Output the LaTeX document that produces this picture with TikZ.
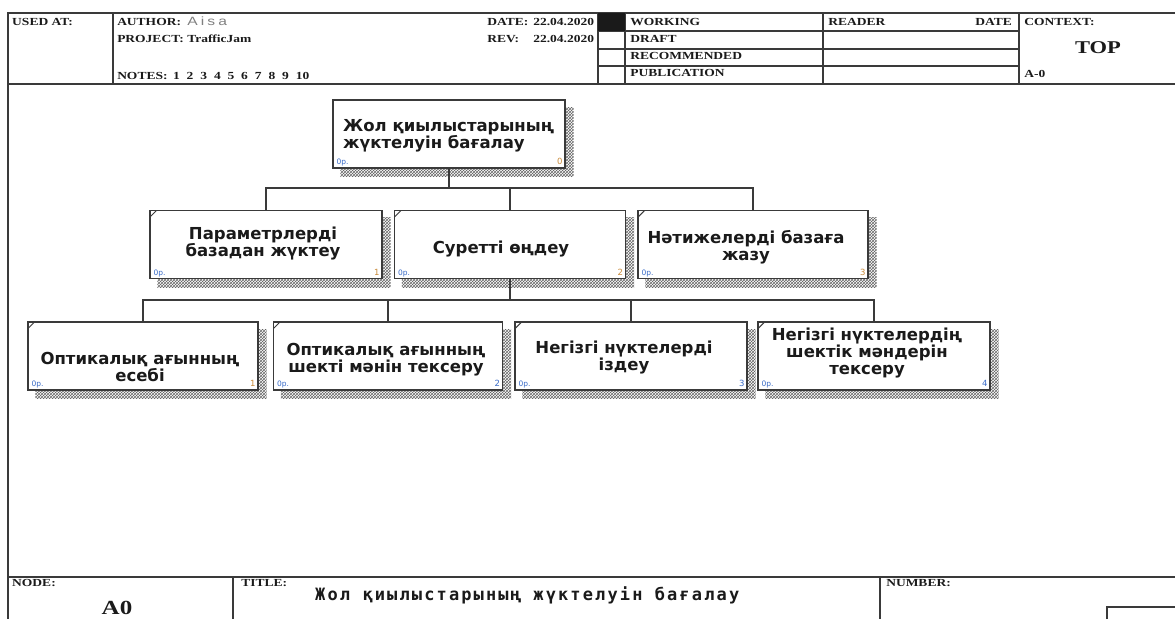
\documentclass[tikz,border=0pt]{standalone}
\usepackage{fontspec}
\setmainfont{Liberation Serif}
\newfontfamily\boxfont{DejaVu Sans}
\newfontfamily\titlefont{DejaVu Sans Mono}[LetterSpace=12.5]
\newfontfamily\namefont{Liberation Sans}[LetterSpace=20]
\usetikzlibrary{patterns}
\pgfdeclarelayer{bg}
\pgfsetlayers{bg,main}

\definecolor{ink}{HTML}{1A1A1A}
\definecolor{rule}{HTML}{3A3A3A}
\definecolor{nblue}{HTML}{3A6CC8}
\definecolor{norange}{HTML}{C98A3A}

\tikzset{
  frame/.style={draw=rule, line width=1.7pt},
  thin/.style={draw=rule, line width=1.3pt},
  hdr/.style={anchor=base west, inner sep=0, text=ink, xscale=1.25,
    font=\bfseries\fontsize{10.8}{12}\selectfont},
  actbox/.style={draw=rule, line width=1.4pt, fill=white, minimum height=68,
    inner sep=0},
  shade/.style={pattern=crosshatch, pattern color=black!60},
  boxtext/.style={align=center, inner sep=0, text=ink,
    font=\boxfont\bfseries\fontsize{16.5}{17}\selectfont},
  conn/.style={draw=rule, line width=1.4pt},
  pmark/.style={inner sep=0, anchor=base west, text=nblue,
    font=\boxfont\fontsize{7.5}{8}\selectfont},
  nmark/.style={inner sep=0, anchor=base east,
    font=\boxfont\fontsize{8.5}{9}\selectfont}
}

% activity box: name, centre, width, number, number colour
\newcommand\actbox[5]{%
  \node[actbox, minimum width=#3] (#1) at (#2) {};
  \begin{pgfonlayer}{bg}
    \fill[shade] ([shift={(8,8)}]#1.north west) rectangle ([shift={(8,8)}]#1.south east);
  \end{pgfonlayer}
  \node[pmark] (#1-p) at ([shift={(4,-4)}]#1.south west) {0p.};
  \node[nmark, text=#5] (#1-n) at ([shift={(-3,-4)}]#1.south east) {#4};
}
% small corner tick of a child box
\newcommand\boxtick[1]{%
  \draw[draw=rule, line width=0.9pt] ([shift={(1,7)}]#1.north west) -- ([shift={(7,1)}]#1.north west);
}

\begin{document}
\begin{tikzpicture}[x=1pt, y=-1pt]
\useasboundingbox (0,0) rectangle (1175,619);

% ---- outer frame and header grid
\draw[frame] (1175,13) -- (8,13) -- (8,619);
\draw[frame] (8,84) -- (1175,84);
\draw[frame] (113,13) -- (113,84);
\draw[frame] (598,13) -- (598,84);
\draw[frame] (625,13) -- (625,84);
\draw[frame] (823,13) -- (823,84);
\draw[frame] (1019,13) -- (1019,84);
\draw[thin] (598,31) -- (1019,31);
\draw[thin] (598,49) -- (1019,49);
\draw[thin] (598,66) -- (1019,66);
\fill[ink] (598,13) rectangle (625,31);

% ---- header texts
\node[hdr] (usedat) at (12,25) {USED AT:};
\node[hdr] (author) at (117,25) {AUTHOR:};
\node[anchor=base west, inner sep=0, text=gray, xscale=1.3,
  font=\namefont\fontsize{12}{12}\selectfont] (aname) at (187,25) {Aisa};
\node[hdr] (project) at (117,42) {PROJECT:};
\node[hdr] (pname) at (187,42) {TrafficJam};
\node[hdr] (notes) at (117,79) {NOTES:\hspace{4.5pt}1\hspace{5.5pt}2\hspace{5.5pt}3\hspace{5.5pt}4\hspace{5.5pt}5\hspace{5.5pt}6\hspace{5.5pt}7\hspace{5.5pt}8\hspace{5.5pt}9\hspace{5.5pt}10};
\node[hdr] (date) at (487,25) {DATE:};
\node[hdr] (dateval) at (533,25) {22.04.2020};
\node[hdr] (rev) at (487,42) {REV:};
\node[hdr] (revval) at (533,42) {22.04.2020};
\node[hdr] (working) at (630,25) {WORKING};
\node[hdr] (draft) at (630,42) {DRAFT};
\node[hdr] (recom) at (630,59) {RECOMMENDED};
\node[hdr] (publ) at (630,76) {PUBLICATION};
\node[hdr] (reader) at (828,25) {READER};
\node[hdr, anchor=base east] (rdate) at (1012,25) {DATE};
\node[hdr] (context) at (1024,25) {CONTEXT:};
\node[hdr, anchor=base, font=\bfseries\fontsize{18}{20}\selectfont] (top) at (1098,53) {TOP};
\node[hdr] (ctxnode) at (1024,77) {A-0};

% ---- footer
\draw[frame] (8,577) -- (1175,577);
\draw[frame] (233,577) -- (233,619);
\draw[frame] (880,577) -- (880,619);
\draw[thin] (1107,619) -- (1107,607) -- (1175,607);
\node[hdr] (nodelbl) at (12,586) {NODE:};
\node[hdr, anchor=base, font=\bfseries\fontsize{20}{22}\selectfont] (nodeval) at (117,614) {A0};
\node[hdr] (titlelbl) at (241,586) {TITLE:};
\node[hdr] (numlbl) at (886,586) {NUMBER:};
\node[anchor=base west, inner sep=0, text=ink,
  font=\titlefont\bfseries\fontsize{17}{18}\selectfont] (title) at (315,600) {Жол қиылыстарының жүктелуін бағалау};

% ---- activity boxes
\actbox{a0}{449,134}{232}{0}{norange}
\actbox{a1}{266,244.5}{232}{1}{norange}
\actbox{a2}{510,244.5}{231}{2}{norange}
\actbox{a3}{753,244.5}{230}{3}{norange}
\actbox{a21}{143,356}{230}{1}{norange}
\actbox{a22}{388,356}{229}{2}{nblue}
\actbox{a23}{631,356}{232}{3}{nblue}
\actbox{a24}{874,356}{232}{4}{nblue}
\boxtick{a1}\boxtick{a2}\boxtick{a3}
\boxtick{a21}\boxtick{a22}\boxtick{a23}\boxtick{a24}

\node[boxtext, align=left, anchor=west] (a0-t) at (343,136) {Жол қиылыстарының\\жүктелуін бағалау};
\node[boxtext] (a1-t) at (263,244) {Параметрлерді\\базадан жүктеу};
\node[boxtext] (a2-t) at (501,249) {Суретті өңдеу};
\node[boxtext] (a3-t) at (746,247) {Нәтижелерді базаға\\жазу};
\node[boxtext] (a21-t) at (140,367) {Оптикалық ағынның\\есебі};
\node[boxtext] (a22-t) at (386,360) {Оптикалық ағынның\\шекті мәнін тексеру};
\node[boxtext] (a23-t) at (624,358) {Негізгі нүктелерді\\іздеу};
\node[boxtext] (a24-t) at (867,353) {Негізгі нүктелердің\\шектік мәндерін\\тексеру};

% ---- decomposition connectors
\coordinate (j1) at (449,188);
\coordinate (j2) at (510,300);
\draw[conn] (a0.south) -- (j1);
\draw[conn] (a1.north) |- (j1) -| (a3.north);
\draw[conn] (a2.north) -- (a2.north |- j1);
\draw[conn] (a2.south) -- (j2);
\draw[conn] (a21.north) |- (j2) -| (a24.north);
\draw[conn] (a22.north) -- (a22.north |- j2);
\draw[conn] (a23.north) -- (a23.north |- j2);
\end{tikzpicture}
\end{document}
